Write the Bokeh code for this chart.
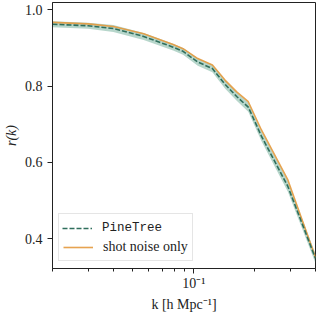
from bokeh.plotting import figure
from bokeh.models import ColumnDataSource, Range1d, FixedTicker, Legend, LegendItem, PrintfTickFormatter
from bokeh.embed import file_html
from bokeh.resources import INLINE

# ---- data ----
k = [0.02, 0.03, 0.04, 0.0565, 0.079, 0.0885, 0.1046, 0.1236, 0.143, 0.1635, 0.186, 0.216, 0.292, 0.4]
r_pinetree = [0.962, 0.958, 0.951, 0.930, 0.902, 0.891, 0.863, 0.846, 0.804, 0.772, 0.745, 0.669, 0.537, 0.348]
r_pinetree_err = [0.008, 0.008, 0.009, 0.009, 0.009, 0.009, 0.010, 0.010, 0.011, 0.011, 0.012, 0.013, 0.014, 0.012]
r_shot = [0.967, 0.963, 0.956, 0.937, 0.909, 0.898, 0.872, 0.855, 0.815, 0.784, 0.759, 0.685, 0.554, 0.351]

series_labels = ["PineTree", "shot noise only"]
y_ticks = [0.4, 0.6, 0.8, 1.0]
x_major_ticks = [0.1]
x_minor_ticks = [0.02, 0.03, 0.04, 0.05, 0.06, 0.07, 0.08, 0.09, 0.2, 0.3, 0.4]
x_tick_labels = {0.1: "10\u207b\u00b9"}

src = ColumnDataSource(dict(
    k=k,
    pine=r_pinetree,
    lo=[a - e for a, e in zip(r_pinetree, r_pinetree_err)],
    hi=[a + e for a, e in zip(r_pinetree, r_pinetree_err)],
    shot=r_shot,
))

SERIF = "Liberation Serif"
MONO = "Liberation Mono"

p = figure(width=318, height=314, x_axis_type="log",
           x_range=Range1d(0.02, 0.4), y_range=Range1d(0.322, 1.019),
           output_backend="svg", toolbar_location=None,
           min_border_left=47, min_border_right=3, min_border_top=2, min_border_bottom=45)

p.background_fill_color = "white"
p.border_fill_color = "white"
p.grid.visible = False
p.outline_line_color = "#222222"
p.outline_line_width = 1

band = p.varea(x="k", y1="lo", y2="hi", source=src, fill_color="#5fa58c", fill_alpha=0.45)
shot_r = p.line(x="k", y="shot", source=src, line_color="#e4993d", line_width=1.6, line_alpha=0.9)
dash_r = p.line(x="k", y="pine", source=src, line_color="#2f6e5c", line_width=1.6, line_dash="5 2")
# invisible twin, used only as a placeholder glyph in the framed legend row
dash_ghost = p.line(x="k", y="pine", source=src, line_color="#2f6e5c", line_width=1.6,
                    line_dash="5 2", line_alpha=0)

# axes
p.xaxis.ticker = FixedTicker(ticks=x_major_ticks, minor_ticks=x_minor_ticks)
p.xaxis.major_label_overrides = x_tick_labels
p.yaxis.ticker = FixedTicker(ticks=y_ticks)
p.yaxis.formatter = PrintfTickFormatter(format="%.1f")
for ax in (p.xaxis[0], p.yaxis[0]):
    ax.axis_line_color = "#222222"
    ax.major_tick_line_color = "#222222"
    ax.minor_tick_line_color = "#222222"
    ax.major_tick_in = 0
    ax.major_tick_out = 5
    ax.minor_tick_in = 0
    ax.minor_tick_out = 3
    ax.major_label_text_font = SERIF
    ax.major_label_text_font_size = "14px"
    ax.major_label_text_color = "#222222"
    ax.axis_label_text_font = SERIF
    ax.axis_label_text_font_size = "14px"
    ax.axis_label_text_color = "#222222"
p.yaxis.minor_tick_line_color = None
p.yaxis.major_label_standoff = 5
p.yaxis.axis_label_standoff = 3
p.xaxis.major_label_standoff = 2
p.xaxis.axis_label_standoff = 3
p.yaxis.axis_label = "r(k)"
p.yaxis.axis_label_text_font_style = "italic"
p.xaxis.axis_label = "k [h Mpc\u207b\u00b9]"
p.xaxis.axis_label_text_font_style = "normal"

# legend: framed legend with both rows, mono-font label overlaid on first row
common = dict(glyph_width=30, glyph_height=18, label_height=18, spacing=2,
              padding=4, label_standoff=10, margin=0)
legB = Legend(items=[LegendItem(label=" ", renderers=[dash_ghost]),
                     LegendItem(label=series_labels[1], renderers=[shot_r])],
              location=(6, 7), border_line_color="#cccccc", border_line_width=1,
              background_fill_color="white", background_fill_alpha=0.85,
              label_text_font=SERIF, label_text_font_size="14px",
              label_text_color="#222222", **common)
legA = Legend(items=[LegendItem(label=series_labels[0], renderers=[dash_r])],
              location=(6, 27), border_line_alpha=0, background_fill_alpha=0,
              label_text_font=MONO, label_text_font_size="12.5px",
              label_text_color="#222222", **common)
p.add_layout(legB)
p.add_layout(legA)

open("out.html", "w").write(file_html(p, INLINE))
